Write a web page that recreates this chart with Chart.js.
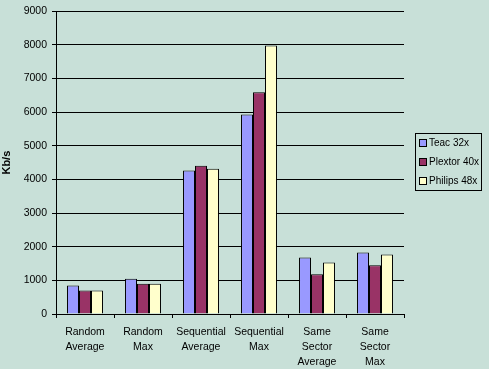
<!DOCTYPE html>
<html>
<head>
<meta charset="utf-8">
<script src="https://cdn.jsdelivr.net/npm/chart.js@4/dist/chart.umd.min.js"></script>
<style>
    html, body {
        margin: 0;
        padding: 0;
        background: #c8e0d8;
    }
    #wrap {
        width: 489px;
        height: 369px;
    }
</style>
</head>
<body>
<div id="wrap"><canvas id="driveChart" width="489" height="369"></canvas></div>
<script>
const categories = [
    ['Random', 'Average'],
    ['Random', 'Max'],
    ['Sequential', 'Average'],
    ['Sequential', 'Max'],
    ['Same', 'Sector', 'Average'],
    ['Same', 'Sector', 'Max']
];

const teacValues = [850, 1050, 4270, 5930, 1680, 1830];
const plextorValues = [700, 900, 4410, 6590, 1180, 1450];
const philipsValues = [700, 900, 4320, 7980, 1530, 1770];

const seriesNames = ['Teac 32x', 'Plextor 40x', 'Philips 48x'];
const seriesColors = ['#9999ff', '#993366', '#ffffcc'];

const yTicks = [0, 1000, 2000, 3000, 4000, 5000, 6000, 7000, 8000, 9000];

const FONT = 'Liberation Sans, Arial, sans-serif';

// legend drawn as a bordered box at the right, like the old office chart
const boxedLegend = {
    id: 'boxedLegend',
    afterDraw(chart) {
        const ctx = chart.ctx;
        const left = 415.5;
        const top = 133.5;
        ctx.save();
        ctx.strokeStyle = '#000';
        ctx.lineWidth = 1;
        ctx.strokeRect(left, top, 66, 57);
        ctx.font = '10px ' + FONT;
        ctx.textBaseline = 'middle';
        chart.data.datasets.forEach((ds, i) => {
            const cy = 143 + i * 19;
            ctx.fillStyle = ds.backgroundColor;
            ctx.fillRect(left + 4, cy - 3.5, 7, 7);
            ctx.strokeRect(left + 4, cy - 3.5, 7, 7);
            ctx.fillStyle = '#000';
            ctx.fillText(ds.label, left + 13.5, cy + 0.5);
        });
        ctx.restore();
    }
};

const valueSets = [teacValues, plextorValues, philipsValues];

new Chart(document.getElementById('driveChart'), {

    type: 'bar',

    data: {
        labels: categories,
        datasets: valueSets.map((vals, i) => ({
            label: seriesNames[i],
            data: vals,
            backgroundColor: seriesColors[i],
            borderColor: '#000',
            borderWidth: 1,
            categoryPercentage: 0.62,
            barPercentage: 1
        }))
    },

    options: {
        responsive: false,
        animation: false,
        devicePixelRatio: 1,
        layout: {
            padding: { top: 10, right: 85, bottom: 0, left: 0 }
        },
        plugins: {
            legend: { display: false },
            tooltip: { enabled: false }
        },
        scales: {
            x: {
                grid: {
                    offset: true,
                    drawOnChartArea: false,
                    color: '#000',
                    tickLength: 4
                },
                border: { color: '#000' },
                ticks: {
                    color: '#000',
                    font: { family: FONT, size: 10.5, lineHeight: 1.43 },
                    padding: 7,
                    maxRotation: 0,
                    autoSkip: false
                },
                afterFit(scale) {
                    scale.height = 55;
                }
            },
            y: {
                min: 0,
                max: 9000,
                afterBuildTicks(scale) {
                    scale.ticks = yTicks.map(v => ({ value: v }));
                },
                grid: {
                    color: '#000',
                    tickLength: 4
                },
                border: { color: '#000' },
                ticks: {
                    color: '#000',
                    font: { family: FONT, size: 10.5 },
                    padding: 5,
                    callback: value => String(value)
                },
                title: {
                    display: true,
                    text: 'Kb/s',
                    color: '#000',
                    font: { family: FONT, size: 11, weight: 'bold' },
                    padding: 0
                },
                afterFit(scale) {
                    scale.width = 56;
                }
            }
        }
    },

    plugins: [boxedLegend]

});
</script>
</body>
</html>
